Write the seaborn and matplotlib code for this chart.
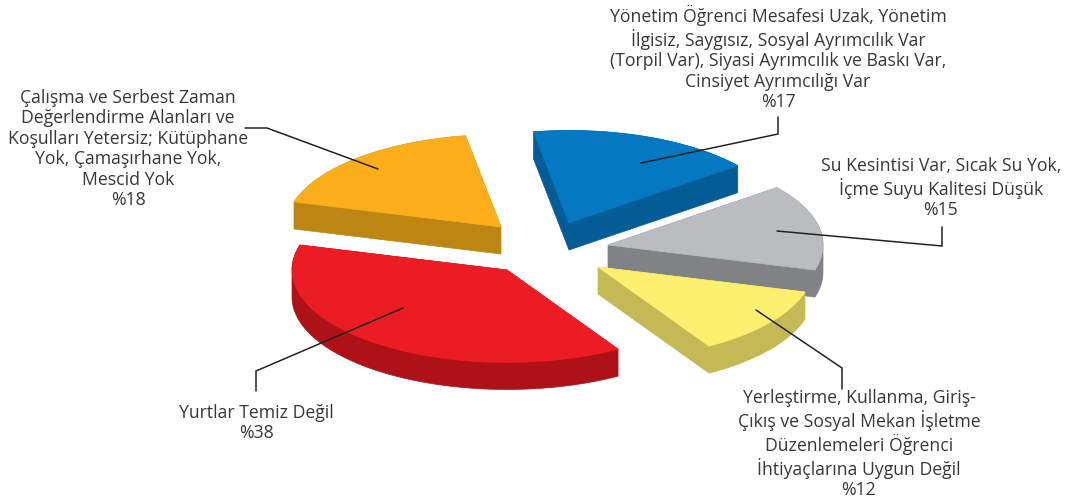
import numpy as np
import matplotlib
matplotlib.use("Agg")
import matplotlib.pyplot as plt
import seaborn as sns
from matplotlib.patches import Polygon

# Survey categories (clockwise from the top) and their shares in percent
categories = [
    "Yönetim Öğrenci Mesafesi Uzak, Yönetim\nİlgisiz, Saygısız, Sosyal Ayrımcılık Var\n(Torpil Var), Siyasi Ayrımcılık ve Baskı Var,\nCinsiyet Ayrımcılığı Var",
    "Su Kesintisi Var, Sıcak Su Yok,\nİçme Suyu Kalitesi Düşük",
    "Yerleştirme, Kullanma, Giriş-\nÇıkış ve Sosyal Mekan İşletme\nDüzenlemeleri Öğrenci\nİhtiyaçlarına Uygun Değil",
    "Yurtlar Temiz Değil",
    "Çalışma ve Serbest Zaman\nDeğerlendirme Alanları ve\nKoşulları Yetersiz; Kütüphane\nYok, Çamaşırhane Yok,\nMescid Yok",
]
shares = [17, 15, 12, 38, 18]

top_colors = ["#0479C1", "#BBBCC0", "#FDF06F", "#EC1C24", "#FBAE19"]
side_colors = ["#045C97", "#818285", "#C4B955", "#AF1119", "#BD8511"]

sns.set_theme(style="white")
plt.rcParams["font.family"] = ["Open Sans", "DejaVu Sans"]

fig = plt.figure(figsize=(10.69, 5.01), dpi=100)
ax = fig.add_axes([0, 0, 1, 1])
ax.set_xlim(0, 1069)
ax.set_ylim(501, 0)
ax.axis("off")

# Pie geometry (screen units): centre, radius, tilt, thickness, start angle
CX, CY = 537, 250
R = 215
TILT = 0.43
DEPTH = 27
START = 99.5
# how far each slice is pulled out of the pie (dx, dy)
pull = [(32, -27), (71, -5), (61, 17), (-30, 20), (-36, -23)]


def to_screen(theta_deg, ox, oy):
    t = np.radians(theta_deg)
    return ox + R * np.cos(t), oy - R * TILT * np.sin(t)


def convex_hull(pts):
    pts = sorted(set(map(tuple, np.round(pts, 4))))
    if len(pts) <= 2:
        return pts

    def cross(o, a, b):
        return (a[0] - o[0]) * (b[1] - o[1]) - (a[1] - o[1]) * (b[0] - o[0])

    lower, upper = [], []
    for p in pts:
        while len(lower) >= 2 and cross(lower[-2], lower[-1], p) <= 0:
            lower.pop()
        lower.append(p)
    for p in reversed(pts):
        while len(upper) >= 2 and cross(upper[-2], upper[-1], p) <= 0:
            upper.pop()
        upper.append(p)
    return lower[:-1] + upper[:-1]


total = float(sum(shares))
hi = START
slices = []
for i, v in enumerate(shares):
    span = 360.0 * v / total
    lo = hi - span
    ox, oy = CX + pull[i][0], CY + pull[i][1]
    thetas = np.linspace(hi, lo, 90)
    xs, ys = to_screen(thetas, ox, oy)
    top = np.vstack([[ox, oy], np.column_stack([xs, ys])])
    bottom = top + np.array([0, DEPTH])
    slices.append((oy, i, top, bottom))
    hi = lo

# paint from the back to the front
for oy, i, top, bottom in sorted(slices, key=lambda s: s[0]):
    hull = convex_hull(np.vstack([top, bottom]))
    ax.add_patch(Polygon(hull, closed=True, facecolor=side_colors[i],
                         edgecolor=side_colors[i], lw=0.5, zorder=2 + oy / 1000))
    ax.add_patch(Polygon(top, closed=True, facecolor=top_colors[i],
                         edgecolor=top_colors[i], lw=0.5, zorder=2.001 + oy / 1000))

# Labels with leader lines
label_pos = [(778, 58), (941, 188), (859, 444), (256, 423), (128, 149)]
leaders = [
    [(641, 163), (778, 134), (778, 117)],
    [(777, 231), (942, 246), (942, 227)],
    [(756, 310), (842, 368), (842, 389)],
    [(403, 308), (256, 371), (256, 391)],
    [(378, 169), (267, 128), (245, 128)],
]
txt_color = "#383838"
for i, cat in enumerate(categories):
    x, y = label_pos[i]
    ax.text(x, y, f"{cat}\n%{shares[i]}", ha="center", va="center", fontsize=12.7,
            color=txt_color, linespacing=1.17, zorder=5)
    lx, ly = zip(*leaders[i])
    ax.plot(lx, ly, color="#222222", lw=1.1, zorder=6, solid_joinstyle="miter")

fig.savefig("out.png", dpi=100, facecolor="white")
